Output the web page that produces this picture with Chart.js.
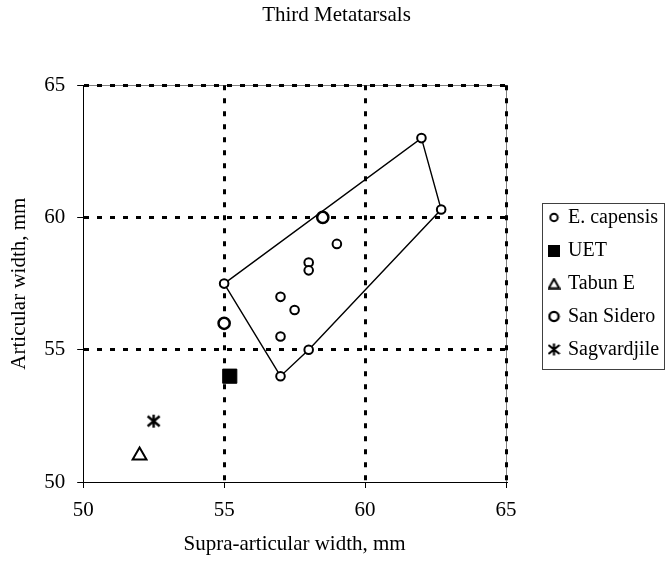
<!DOCTYPE html>
<html><head><meta charset="utf-8">
<script src="https://cdn.jsdelivr.net/npm/chart.js@4/dist/chart.umd.min.js"></script>
<style>html,body{margin:0;padding:0;background:#fff}#wrap{width:666px;height:563px;position:relative}</style>
</head><body><div id="wrap"><canvas id="c"></canvas></div>
<script>
const chartTitle = 'Third Metatarsals';
const xAxisTitle = 'Supra-articular width, mm';
const yAxisTitle = 'Articular width, mm';
const seriesNames = ['E. capensis', 'UET', 'Tabun E', 'San Sidero', 'Sagvardjile'];
const axisMin = 50, axisMax = 65, axisStep = 5;

const capensisX = [62, 62.7, 55, 59, 58, 58, 57, 57.5, 57, 58, 57];
const capensisY = [63, 60.3, 57.5, 59, 58.3, 58, 57, 56.5, 55.5, 55, 54];
const uetX = [55.2];
const uetY = [54];
const tabunX = [52];
const tabunY = [51];
const sideroX = [58.5, 55];
const sideroY = [60, 56];
const sagvX = [52.5];
const sagvY = [52.3];
const hullX = [55, 62, 62.7, 58, 57, 55];
const hullY = [57.5, 63, 60.3, 55, 54, 57.5];

const pts = (xs, ys) => xs.map((x, i) => ({x, y: ys[i]}));
const FAMILY = "'Liberation Serif', 'Times New Roman', serif";
const FONT = {family: FAMILY, size: 21, weight: 'normal'};
const FONT1 = {family: FAMILY, size: 21, weight: 'normal', lineHeight: 1};

function icon(w, h, draw) {
  const c = document.createElement('canvas');
  c.width = w; c.height = h;
  const g = c.getContext('2d');
  g.strokeStyle = '#000'; g.fillStyle = '#000';
  draw(g);
  return c;
}
// asterisk marker (6 spokes)
const star = icon(15, 15, g => {
  g.lineWidth = 2.4;
  g.beginPath();
  g.moveTo(7.5, 1); g.lineTo(7.5, 14);
  g.moveTo(1.5, 2.5); g.lineTo(13.5, 12.5);
  g.moveTo(13.5, 2.5); g.lineTo(1.5, 12.5);
  g.stroke();
});
// legend icons
const legendIcons = [
  icon(11, 11, g => { g.lineWidth = 2; g.beginPath(); g.arc(5.5, 5.5, 3.7, 0, Math.PI * 2); g.stroke(); }),
  icon(12, 12, g => { g.fillRect(0, 0, 12, 12); }),
  icon(13, 12, g => { g.lineWidth = 2; g.beginPath(); g.moveTo(6.5, 1.5); g.lineTo(11.8, 10.8); g.lineTo(1.2, 10.8); g.closePath(); g.stroke(); }),
  icon(13, 13, g => { g.lineWidth = 2.4; g.beginPath(); g.arc(6.5, 6.5, 4.6, 0, Math.PI * 2); g.stroke(); }),
  icon(13, 13, g => { g.lineWidth = 2.2; g.beginPath();
    g.moveTo(6.5, 0.5); g.lineTo(6.5, 12.5);
    g.moveTo(1, 2); g.lineTo(12, 11);
    g.moveTo(12, 2); g.lineTo(1, 11); g.stroke(); })
];

const framePlugin = {
  id: 'frame',
  beforeLayout(chart) {
    const lg = chart.legend;
    if (lg && !lg._fitPatched) {
      const orig = lg.fit;
      lg.fit = function() { orig.call(this); this.width = 160; };
      lg._fitPatched = true;
    }
  },
  afterLayout(chart) {
    const lg = chart.legend;
    lg.left = chart.chartArea.right + 31;
    lg.top += 2; lg.bottom += 2;
  },
  beforeDraw(chart) {
    const {ctx, chartArea: a} = chart;
    ctx.save();
    ctx.fillStyle = '#fff';
    ctx.fillRect(0, 0, chart.width, chart.height);
    ctx.strokeStyle = '#808080';
    ctx.lineWidth = 1;
    ctx.beginPath();
    ctx.moveTo(a.left, Math.round(a.top) + 0.5);
    ctx.lineTo(Math.round(a.right) + 0.5, Math.round(a.top) + 0.5);
    ctx.lineTo(Math.round(a.right) + 0.5, a.bottom);
    ctx.stroke();
    ctx.restore();
  },
  afterDraw(chart) {
    const lg = chart.legend;
    const ctx = chart.ctx;
    ctx.save();
    ctx.strokeStyle = '#404040';
    ctx.lineWidth = 1;
    ctx.strokeRect(Math.round(lg.left + 5) + 0.5, 203.5, 122, 166);
    ctx.restore();
  }
};

new Chart(document.getElementById('c'), {
  type: 'scatter',
  data: {
    datasets: [
      {label: seriesNames[0], data: pts(capensisX, capensisY), pointStyle: 'circle', pointRadius: 4.3, pointHoverRadius: 4.3,
       borderColor: '#000', backgroundColor: '#fff', borderWidth: 2},
      {label: seriesNames[1], data: pts(uetX, uetY), pointStyle: 'rect', pointRadius: 10, pointHoverRadius: 10,
       borderColor: '#000', backgroundColor: '#000', borderWidth: 1},
      {label: seriesNames[2], data: pts(tabunX, tabunY), pointStyle: 'triangle', pointRadius: 8, pointHoverRadius: 8,
       borderColor: '#000', backgroundColor: '#fff', borderWidth: 2},
      {label: seriesNames[3], data: pts(sideroX, sideroY), pointStyle: 'circle', pointRadius: 5.6, pointHoverRadius: 5.6,
       borderColor: '#000', backgroundColor: '#fff', borderWidth: 2.5},
      {label: seriesNames[4], data: pts(sagvX, sagvY), pointStyle: star, pointRadius: 7,
       borderColor: '#000', backgroundColor: '#000', borderWidth: 2},
      {label: 'hull', type: 'line', data: pts(hullX, hullY), showLine: true, pointRadius: 0, pointHoverRadius: 0,
       borderColor: '#000', borderWidth: 1.4, fill: false, tension: 0}
    ]
  },
  options: {
    responsive: true,
    maintainAspectRatio: false,
    animation: false,
    devicePixelRatio: 1,
    layout: {padding: {left: 7, right: 0, top: 0, bottom: 0}},
    plugins: {
      title: {display: true, text: chartTitle, color: '#000', font: FONT, padding: {top: 3, bottom: 57}},
      legend: {
        display: true, position: 'right', align: 'center',
        labels: {
          filter: (item) => item.text !== 'hull',
          generateLabels: (chart) => {
            const items = Chart.defaults.plugins.legend.labels.generateLabels(chart);
            items.forEach(it => { if (legendIcons[it.datasetIndex]) it.pointStyle = legendIcons[it.datasetIndex]; });
            return items;
          },
          usePointStyle: true, boxHeight: 7, boxWidth: 8,
          color: '#000', font: {family: FAMILY, size: 20}, padding: 13
        }
      },
      tooltip: {enabled: false}
    },
    scales: {
      x: {
        type: 'linear', min: axisMin, max: axisMax,
        ticks: {stepSize: axisStep, color: '#000', font: FONT1, padding: 12, maxRotation: 0},
        grid: {
          color: (c) => (c.tick && c.tick.value === axisMin) ? 'rgba(0,0,0,0)' : '#000',
          lineWidth: 3, tickColor: '#000', tickWidth: 1, tickLength: 6
        },
        border: {display: true, color: '#000', width: 1, dash: [5, 8]},
        title: {display: true, text: xAxisTitle, color: '#000', font: FONT1, padding: {top: 1, bottom: 8}}
      },
      y: {
        type: 'linear', min: axisMin, max: axisMax,
        ticks: {stepSize: axisStep, color: '#000', font: FONT, padding: 12},
        grid: {
          color: (c) => (c.tick && c.tick.value === axisMin) ? 'rgba(0,0,0,0)' : '#000',
          lineWidth: 3, tickColor: '#000', tickWidth: 1, tickLength: 6
        },
        border: {display: true, color: '#000', width: 1, dash: [5, 8]},
        title: {display: true, text: yAxisTitle, color: '#000', font: FONT, padding: {top: 0, bottom: 0}}
      }
    }
  },
  plugins: [framePlugin]
});
</script>
</body></html>
